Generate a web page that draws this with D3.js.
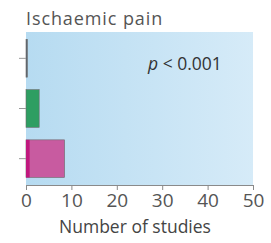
<!DOCTYPE html>
<html lang="en">
<head>
    <meta charset="UTF-8">
    <title>Ischaemic pain</title>
    <style>
        body { margin: 0; background: #fff; }
        text { font-family: "Open Sans", "Noto Sans", sans-serif; }
    </style>
</head>
<body>
    <script src="https://cdn.jsdelivr.net/npm/d3@7"></script>
    <script>
        const categories = ['a', 'b', 'c'];
        const baseValues = [0, 0, 0.8];   // darker stripe at bar base
        const mainValues = [0.3, 2.9, 7.7];
        const barColors = ['#5d6670', '#2e9e62', '#c85ba0'];
        const baseColors = ['#5d6670', '#2e9e62', '#c0187e'];
        const xTicks = [0, 10, 20, 30, 40, 50];

        const w = 271;
        const h = 243;
        const margin = { left: 26, right: 18, top: 32, bottom: 58 };

        const svg = d3.select('body')
            .append('svg')
            .attr('width', w)
            .attr('height', h);

        const xScale = d3.scaleLinear()
            .domain([0, 50])
            .range([margin.left, w - margin.right]);

        const yScale = d3.scaleBand()
            .domain(categories)
            .range([margin.top, h - margin.bottom])
            .paddingInner(0.25)
            .paddingOuter(0.15);

        // background gradient
        const grad = svg.append('defs').append('linearGradient')
            .attr('id', 'bg')
            .attr('x1', '0%').attr('x2', '100%');
        grad.append('stop').attr('offset', '0%').attr('stop-color', '#b6dbf1');
        grad.append('stop').attr('offset', '100%').attr('stop-color', '#d6ebf8');

        svg.append('rect')
            .attr('x', margin.left)
            .attr('y', margin.top)
            .attr('width', xScale(50) - margin.left)
            .attr('height', h - margin.bottom - margin.top)
            .attr('fill', 'url(#bg)');

        svg.selectAll('rect.bar')
            .data(categories)
            .enter()
            .append('rect')
            .attr('class', 'bar')
            .attr('x', xScale(0))
            .attr('y', (d) => yScale(d))
            .attr('width', (d, i) => xScale(baseValues[i] + mainValues[i]) - xScale(0))
            .attr('height', yScale.bandwidth())
            .attr('fill', (d, i) => barColors[i])
            .attr('stroke', '#6a6a6a')
            .attr('stroke-width', 0.6);

        svg.selectAll('rect.base')
            .data(categories)
            .enter()
            .append('rect')
            .attr('class', 'base')
            .attr('x', xScale(0))
            .attr('y', (d) => yScale(d))
            .attr('width', (d, i) => xScale(baseValues[i]) - xScale(0))
            .attr('height', yScale.bandwidth())
            .attr('fill', (d, i) => baseColors[i]);

        // x axis
        const xAxis = svg.append('g')
            .attr('transform', `translate(0,${h - margin.bottom})`)
            .call(d3.axisBottom(xScale).tickValues(xTicks).tickSize(5).tickSizeOuter(0));
        xAxis.select('.domain').attr('stroke', '#8a8a8a');
        xAxis.selectAll('.tick line').attr('stroke', '#8a8a8a');
        xAxis.selectAll('.tick text')
            .attr('fill', '#555')
            .attr('font-size', 19)
            .attr('dy', 0)
            .attr('y', 22);

        // y ticks only
        const yAxis = svg.append('g')
            .attr('transform', `translate(${margin.left},0)`)
            .call(d3.axisLeft(yScale).tickSize(7).tickFormat(''));
        yAxis.select('.domain').remove();
        yAxis.selectAll('.tick line').attr('stroke', '#999');

        svg.append('text')
            .attr('x', 26)
            .attr('y', 25)
            .attr('font-size', 18)
            .attr('letter-spacing', 0.9)
            .attr('fill', '#555')
            .text('Ischaemic pain');

        const pt = svg.append('text')
            .attr('x', 148)
            .attr('y', 70)
            .attr('font-size', 17.5)
            .attr('fill', '#333');
        pt.append('tspan').attr('font-style', 'italic').text('p');
        pt.append('tspan').text(' < 0.001');

        svg.append('text')
            .attr('x', 135)
            .attr('y', 233)
            .attr('text-anchor', 'middle')
            .attr('font-size', 17.5)
            .attr('fill', '#444')
            .text('Number of studies');
    </script>
</body>
</html>
